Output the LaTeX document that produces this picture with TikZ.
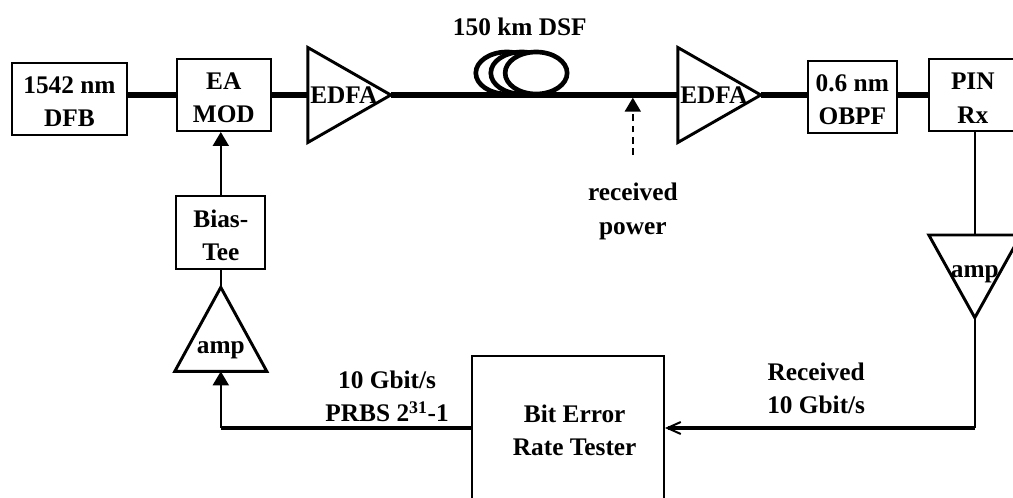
\documentclass[tikz,border=0pt]{standalone}
\usepackage{fontspec}
\setmainfont{Liberation Serif}
\usetikzlibrary{arrows.meta,positioning,shapes.geometric}
\tikzset{
  box/.style={rectangle, draw=black, fill=white, line width=1.5pt, align=center, inner sep=0pt,
              font=\lbfont, text height=42pt, minimum width=70.5pt, minimum height=54pt},
  ampbox/.style={isosceles triangle, isosceles triangle stretches, draw=black, fill=white, line width=2.2pt,
                 inner sep=0pt, outer sep=0pt, font=\lbfont},
  edfabox/.style={ampbox, minimum height=62.25pt, minimum width=71.25pt},
  coil/.style={ellipse, draw=black, fill=white, line width=3.5pt, minimum width=46.5pt, minimum height=31.5pt, inner sep=0pt},
  lbl/.style={font=\lbfont, align=center, inner sep=0pt},
  fibre/.style={draw=black, line width=4.5pt},
  rfline/.style={draw=black, line width=1.5pt},
  rfbus/.style={draw=black, line width=2.8pt},
  flow/.style={rfline, -{Triangle[length=10.5pt, width=12pt]}},
  rxflow/.style={rfbus, -{Straight Barb[length=10pt, width=9pt, line width=1.5pt]}},
  tapflow/.style={rfline, dash pattern=on 5pt off 3.5pt, -{Triangle[length=10.5pt, width=12pt]}}
}
\newcommand{\lbfont}{\fontsize{19}{25}\selectfont\bfseries}
\newcommand{\edfatext}{\makebox[0pt]{\hspace*{20pt}EDFA}}
\begin{document}
\begin{tikzpicture}
  \clip (0,0) rectangle (759.75pt,372.75pt);
  % optical path
  \node[box, minimum width=86pt] (dfb) at (52.1pt,298.5pt) {1542 nm\\DFB};
  \node[box, right=36pt of dfb, yshift=3pt] (mod) {EA\\MOD};
  \node[edfabox, right=27pt of mod] (edfaa) {\edfatext};
  \node[edfabox, right=215.25pt of edfaa.apex] (edfab) {\edfatext};
  \node[box, minimum width=66.75pt, right=34.5pt of edfab.apex, yshift=-1.5pt] (obpf) {0.6 nm\\OBPF};
  \node[box, minimum width=66pt, right=22.5pt of obpf, yshift=1.5pt] (pin) {PIN\\Rx};
  \draw[fibre] (mod.west) -- (mod.west -| dfb.east);
  \draw[fibre] (mod.east) -- (edfaa.west);
  \draw[fibre] (edfaa.apex) -- (edfab.west);
  \draw[fibre] (edfab.apex) -- (obpf.west |- edfab.apex);
  \draw[fibre] (obpf.east |- edfab.apex) -- (pin.west |- edfab.apex);
  % fibre spool
  \coordinate[right=87pt of edfaa.apex] (coilbase);
  \node[coil, above=-1pt of coilbase] (coila) {};
  \node[coil, xshift=11.25pt] (coilb) at (coila) {};
  \node[coil, xshift=22pt] (coilc) at (coila) {};
  \node[lbl, above=10pt of coilb, xshift=-1.5pt] (dsf) {150 km DSF};
  \coordinate[right=181.5pt of edfaa.apex] (tap);
  \node[lbl, below=66pt of tap] (rxpower) {received\\power};
  \draw[tapflow, shorten <=21pt, shorten >=2pt] (rxpower.north) -- (tap);
  % electrical path
  \node[box, minimum width=67pt, minimum height=55pt, below=47.25pt of mod, xshift=-2.25pt] (bias) {Bias-\\Tee};
  \node[ampbox, shape border rotate=90, below=12.75pt of bias, minimum width=69pt, minimum height=63pt, text height=30pt] (txamp) {\makebox[0pt]{amp}};
  \node[ampbox, shape border rotate=270, below=77.25pt of pin, xshift=1.5pt, minimum width=69pt, minimum height=62pt, text height=19.5pt] (rxamp) {\makebox[0pt]{amp}};
  \node[box, text height=39pt, minimum width=144pt, minimum height=111pt] (bert) at (426pt,50.25pt) {\hspace*{10pt}Bit Error\\\hspace*{10pt}Rate Tester};
  \coordinate[above=1.5pt of bert.west] (bertout);
  \coordinate[above=1.5pt of bert.east] (bertin);
  \draw[flow] (bias.north) -- (bias.north |- mod.south);
  \draw[rfline] (bias.south) -- (txamp.apex);
  \draw[rfline] (rxamp.north |- pin.south) -- (rxamp.north);
  \draw[rfbus] (bertout) -- (bertout -| txamp.south);
  \draw[flow] (bertout -| txamp.south) -- (txamp.south);
  \draw[rfline] (rxamp.apex) -- (rxamp.apex |- bertin);
  \draw[rxflow] (rxamp.apex |- bertin) -- (bertin);
  \node[lbl, above left=4.5pt and 16.5pt of bertout] (prbs) {10 Gbit/s\\PRBS 2\textsuperscript{31}-1};
  \node[lbl, above right=10.5pt and 76.5pt of bertin] (rxrate) {Received\\10 Gbit/s};
\end{tikzpicture}
\end{document}
